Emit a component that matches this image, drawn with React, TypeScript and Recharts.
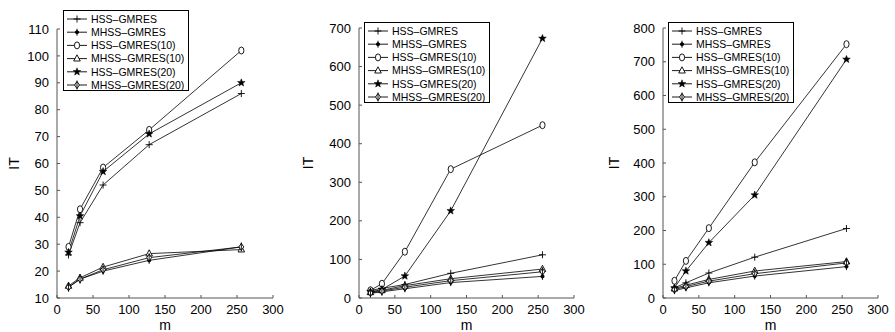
import { LineChart, Line, XAxis, YAxis, Legend } from "recharts";

const FONT = '"Liberation Sans", Arial, Helvetica, sans-serif';

const mValues = [16, 32, 64, 128, 256];
const xTicks = [0, 50, 100, 150, 200, 250, 300];

const seriesNames = [
  "HSS–GMRES",
  "MHSS–GMRES",
  "HSS–GMRES(10)",
  "MHSS–GMRES(10)",
  "HSS–GMRES(20)",
  "MHSS–GMRES(20)",
];
const markerTypes = ["plus", "asterisk", "circle", "triangle", "star", "diamond"];

// panel 1
const p1Hss = [26, 38, 52, 67, 86];
const p1Mhss = [14, 17, 20, 24, 29];
const p1Hss10 = [29, 43, 58.5, 72.5, 102];
const p1Mhss10 = [14.5, 17.5, 21.5, 26.5, 28];
const p1Hss20 = [27, 40.5, 57, 71, 90];
const p1Mhss20 = [14, 17, 20.5, 25, 29];
const p1YTicks = [10, 20, 30, 40, 50, 60, 70, 80, 90, 100, 110];

// panel 2
const p2Hss = [20, 25, 35, 64, 112];
const p2Mhss = [12, 16, 24, 40, 56];
const p2Hss10 = [20, 37, 120, 334, 448];
const p2Mhss10 = [15, 20, 32, 50, 75];
const p2Hss20 = [16, 22, 57, 226, 673];
const p2Mhss20 = [13, 18, 28, 45, 68];
const p2YTicks = [0, 100, 200, 300, 400, 500, 600, 700];

// panel 3
const p3Hss = [30, 45, 74, 121, 206];
const p3Mhss = [22, 30, 45, 65, 93];
const p3Hss10 = [51, 110, 207, 402, 752];
const p3Mhss10 = [28, 38, 55, 80, 108];
const p3Hss20 = [30, 80, 164, 305, 707];
const p3Mhss20 = [25, 34, 50, 72, 104];
const p3YTicks = [0, 100, 200, 300, 400, 500, 600, 700, 800];

function buildRows(series: number[][]) {
  return mValues.map((m, i) => {
    const row: Record<string, number> = { m };
    series.forEach((s, k) => {
      row["s" + k] = s[i];
    });
    return row;
  });
}

function starPoints(cx: number, cy: number, r: number) {
  const pts: string[] = [];
  for (let i = 0; i < 10; i++) {
    const rad = i % 2 === 0 ? r : r * 0.42;
    const a = -Math.PI / 2 + (i * Math.PI) / 5;
    pts.push(`${cx + rad * Math.cos(a)},${cy + rad * Math.sin(a)}`);
  }
  return pts.join(" ");
}

function Marker({ type, cx, cy }: { type: string; cx: number; cy: number }) {
  if (cx == null || cy == null) return null;
  const s = 3.5;
  switch (type) {
    case "plus":
      return (
        <g stroke="#000" strokeWidth={0.9}>
          <line x1={cx - s} x2={cx + s} y1={cy} y2={cy} />
          <line x1={cx} x2={cx} y1={cy - s} y2={cy + s} />
        </g>
      );
    case "asterisk":
      return (
        <g stroke="#000" strokeWidth={0.9}>
          <line x1={cx} x2={cx} y1={cy - s} y2={cy + s} />
          <circle cx={cx} cy={cy} r={1.6} fill="#000" />
        </g>
      );
    case "circle":
      return <ellipse cx={cx} cy={cy} rx={2.6} ry={3.5} fill="#fff" stroke="#000" strokeWidth={0.9} />;
    case "triangle":
      return (
        <polygon
          points={`${cx},${cy - 3.8} ${cx - 3.3},${cy + 2.4} ${cx + 3.3},${cy + 2.4}`}
          fill="#fff"
          stroke="#000"
          strokeWidth={0.9}
        />
      );
    case "star":
      return <polygon points={starPoints(cx, cy, 4)} fill="#000" stroke="#000" strokeWidth={0.5} />;
    case "diamond":
      return (
        <g stroke="#000" strokeWidth={0.9}>
          <polygon
            points={`${cx},${cy - 3.6} ${cx + 2.4},${cy} ${cx},${cy + 3.6} ${cx - 2.4},${cy}`}
            fill="#fff"
          />
          <line x1={cx} x2={cx} y1={cy - 4.5} y2={cy + 4.5} />
        </g>
      );
    default:
      return null;
  }
}

const renderLegend = () => (
  <svg width={127} height={81} style={{ display: "block" }}>
    <rect x={0.5} y={0.5} width={125} height={80} fill="#fff" stroke="#000" strokeWidth={1} />
    {seriesNames.map((name, i) => {
      const y = 9 + i * 13.2;
      return (
        <g key={name}>
          <line x1={4} x2={24} y1={y} y2={y} stroke="#000" strokeWidth={0.9} />
          <Marker type={markerTypes[i]} cx={14} cy={y} />
          <text x={28} y={y} dy="0.36em" fontSize={10.5} fontFamily={FONT} fill="#000">
            {name}
          </text>
        </g>
      );
    })}
  </svg>
);

interface PanelProps {
  left: number;
  series: number[][];
  yTicks: number[];
  yWidth: number;
  top: number;
  right: number;
  legendLeft: number;
  legendTop: number;
  itX: number;
}

function Panel({ left, series, yTicks, yWidth, top, right, legendLeft, legendTop, itX }: PanelProps) {
  const data = buildRows(series);
  const tickStyle = { fill: "#000", fontSize: 13, fontFamily: FONT };
  return (
    <div style={{ position: "absolute", left, top: 0 }}>
      <LineChart
        width={300}
        height={332}
        data={data}
        margin={{ top, right, bottom: 0, left: 0 }}
      >
        <XAxis
          dataKey="m"
          type="number"
          domain={[0, 300]}
          ticks={xTicks}
          height={34}
          tick={tickStyle}
          tickSize={-3}
          tickMargin={10}
          stroke="#555"
          label={{
            content: (p: any) => {
              const vb = p.viewBox;
              return (
                <text x={vb.x + vb.width / 2} y={vb.y + 32} textAnchor="middle" fontSize={14} fontFamily={FONT} fill="#000">
                  m
                </text>
              );
            },
          }}
        />
        <YAxis
          type="number"
          domain={[yTicks[0], yTicks[yTicks.length - 1]]}
          ticks={yTicks}
          width={yWidth}
          tick={tickStyle}
          tickSize={-3}
          tickMargin={11}
          stroke="#555"
          interval={0}
          label={{
            content: (p: any) => {
              const vb = p.viewBox;
              const cy = vb.y + vb.height / 2;
              return (
                <text
                  transform={`translate(${itX}, ${cy}) rotate(-90)`}
                  textAnchor="middle"
                  dy="0.36em"
                  fontSize={14}
                  fontFamily={FONT}
                  fill="#000"
                >
                  IT
                </text>
              );
            },
          }}
        />
        <Legend
          layout="vertical"
          align="center"
          verticalAlign="middle"
          content={renderLegend}
          wrapperStyle={{ left: legendLeft, top: legendTop, width: 127, height: 81 }}
        />
        {seriesNames.map((name, k) => (
          <Line
            key={name}
            dataKey={"s" + k}
            name={name}
            type="linear"
            stroke="#000"
            strokeWidth={0.8}
            isAnimationActive={false}
            activeDot={false}
            dot={(p: any) => (
              <Marker key={name + "-" + p.index} type={markerTypes[k]} cx={p.cx} cy={p.cy} />
            )}
          />
        ))}
      </LineChart>
    </div>
  );
}

export default function App() {
  return (
    <div
      style={{
        position: "absolute",
        left: 0,
        top: 0,
        width: 895,
        height: 332,
        background: "#fff",
        fontFamily: FONT,
      }}
    >
      <Panel
        left={0}
        series={[p1Hss, p1Mhss, p1Hss10, p1Mhss10, p1Hss20, p1Mhss20]}
        yTicks={p1YTicks}
        yWidth={57}
        top={29}
        right={27}
        legendLeft={63}
        legendTop={10}
        itX={14}
      />
      <Panel
        left={300}
        series={[p2Hss, p2Mhss, p2Hss10, p2Mhss10, p2Hss20, p2Mhss20]}
        yTicks={p2YTicks}
        yWidth={59}
        top={28}
        right={26}
        legendLeft={64}
        legendTop={22}
        itX={8}
      />
      <Panel
        left={595}
        series={[p3Hss, p3Mhss, p3Hss10, p3Mhss10, p3Hss20, p3Mhss20]}
        yTicks={p3YTicks}
        yWidth={68}
        top={28}
        right={17}
        legendLeft={73}
        legendTop={22}
        itX={19}
      />
    </div>
  );
}
